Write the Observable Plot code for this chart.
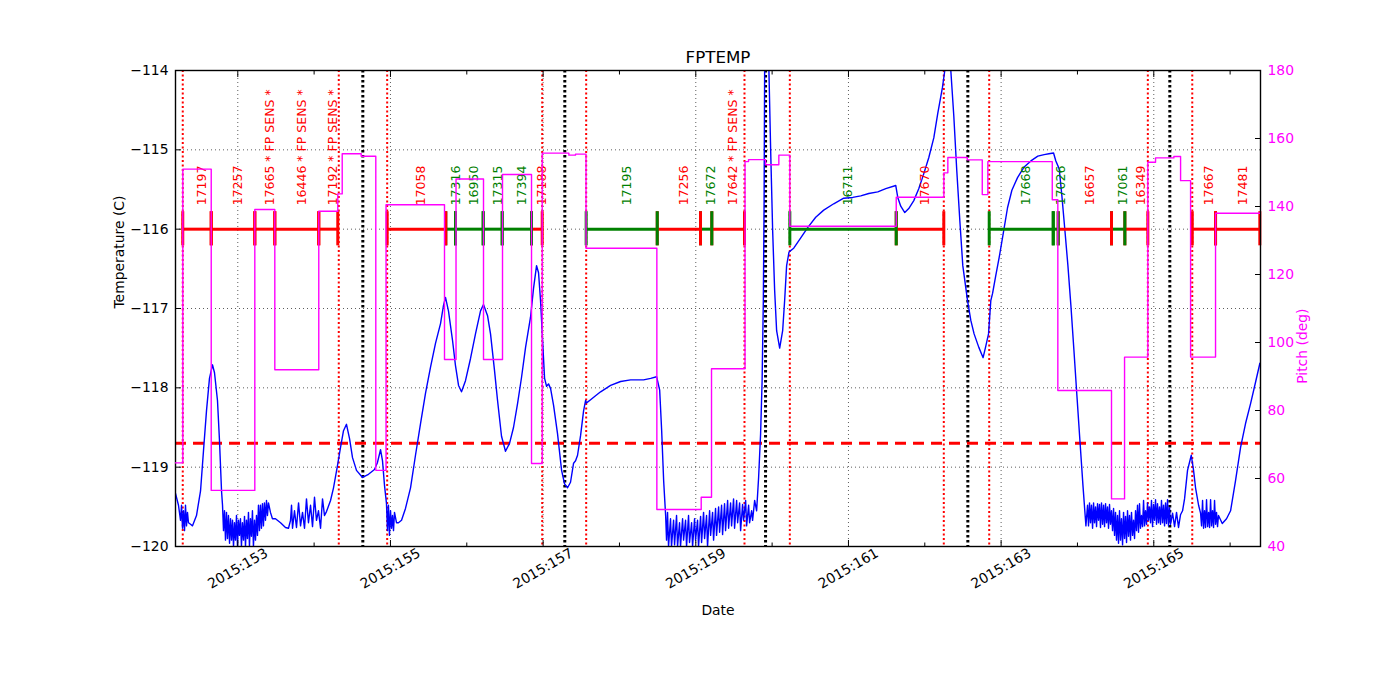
<!DOCTYPE html>
<html><head><meta charset="utf-8">
<script src="https://cdn.jsdelivr.net/npm/d3@7"></script>
<script src="https://cdn.jsdelivr.net/npm/@observablehq/plot@0.6"></script>
<style>
html,body{margin:0;padding:0;background:#fff;overflow:hidden;}
#wrap{position:relative;width:1400px;height:700px;}
#wrap svg{position:absolute;left:0;top:0;max-width:none;}
</style></head><body><div id="wrap"></div>
<script>
// ---- data ----
const tempDay = [152.184,152.223,152.250,152.263,152.276,152.289,152.302,152.315,152.328,152.341,152.354,152.381,152.407,152.459,152.512,152.551,152.590,152.629,152.669,152.695,152.734,152.760,152.787,152.800,
152.813,152.826,152.839,152.852,152.865,152.878,152.892,152.905,152.918,152.931,152.944,152.957,152.970,152.983,152.996,153.009,153.022,153.035,153.048,153.061,153.075,153.088,153.101,153.114,153.127,153.140,153.153,153.166,153.179,153.192,153.205,153.219,153.232,153.245,153.258,153.271,153.284,153.297,153.310,153.323,153.336,153.349,153.363,153.376,153.389,153.402,153.428,153.454,
153.494,153.560,153.625,153.664,
153.691,153.704,153.717,153.743,153.769,153.796,153.822,153.848,153.874,153.900,153.926,153.953,153.979,154.005,154.031,154.057,154.084,154.110,154.136,154.162,
154.215,154.254,154.306,154.346,154.385,154.424,154.464,154.503,154.555,154.634,154.712,154.791,154.830,154.870,154.896,154.922,154.948,154.961,154.974,154.987,155.001,155.014,155.027,155.040,155.053,155.079,155.105,155.145,155.197,155.263,155.328,155.394,155.459,155.525,155.590,155.656,155.695,155.721,155.760,155.813,155.852,155.892,155.931,155.983,156.049,156.114,156.180,156.219,156.272,156.311,156.363,156.403,156.455,156.507,156.560,156.612,156.665,156.717,156.770,156.835,156.874,156.914,156.940,156.966,156.993,157.019,157.045,157.071,157.098,157.137,157.189,157.242,157.281,157.320,157.359,157.399,157.425,157.451,157.491,157.530,157.556,157.569,157.622,157.687,157.753,157.884,158.015,158.146,158.316,158.409,158.487,158.527,158.553,158.579,158.605,
158.617,158.630,158.643,158.669,158.682,158.709,158.722,158.748,158.761,158.787,158.800,158.827,158.840,158.866,158.879,158.905,158.918,158.945,158.958,158.984,158.997,159.023,159.036,159.063,159.076,159.102,159.115,159.141,159.154,159.181,159.194,159.220,159.233,159.259,159.272,159.299,159.312,159.338,159.351,159.377,159.390,159.417,159.430,159.456,159.469,159.495,159.508,159.535,159.548,159.574,159.587,159.613,159.626,159.653,159.666,159.692,159.705,159.731,159.744,159.771,159.797,
159.823,159.849,159.869,159.885,159.895,159.902,159.915,159.928,159.948,159.958,159.981,160.007,160.033,160.059,160.099,160.138,160.164,160.190,160.221,160.230,160.283,160.375,160.466,160.571,160.676,160.807,160.938,161.056,161.161,161.266,161.384,161.489,161.620,161.646,161.685,161.738,161.790,161.856,161.921,161.987,162.052,162.118,162.170,162.232,162.262,162.288,162.315,162.341,162.380,162.419,162.459,162.498,162.560,162.603,162.646,162.708,162.764,162.800,162.835,162.865,162.888,162.931,162.974,163.023,163.084,163.141,163.215,163.298,163.390,163.481,163.564,163.626,163.687,163.717,163.761,163.796,163.836,163.875,163.914,163.954,163.993,164.032,164.072,164.111,
164.132,164.145,164.158,164.171,164.184,164.198,164.211,164.224,164.237,164.250,164.263,164.276,164.289,164.302,164.315,164.329,164.342,164.355,164.368,164.381,164.394,164.407,164.420,164.433,164.446,164.460,164.473,164.486,164.499,164.512,164.525,164.538,164.551,164.564,164.577,164.591,164.604,164.617,164.630,164.643,164.656,164.669,164.682,164.695,164.708,164.722,164.735,164.748,164.761,164.774,164.787,164.800,164.813,164.826,164.839,164.853,164.866,164.879,164.892,164.905,164.918,164.931,164.944,164.957,164.970,164.984,164.997,165.010,165.023,165.036,165.049,165.062,165.075,165.088,165.101,165.115,165.128,165.141,165.154,165.167,165.180,165.193,165.206,165.219,165.246,165.272,165.298,165.324,165.350,165.377,
165.403,165.442,165.491,165.521,165.547,165.587,165.613,
165.626,165.639,165.652,165.665,165.678,165.691,165.705,165.718,165.731,165.744,165.757,165.770,165.783,165.796,165.809,165.822,165.835,165.848,
165.897,165.953,166.006,166.071,166.137,166.202,166.268,166.333,166.390];

const tempVal = [-119.33,-119.48,-119.67,-119.48,-119.77,-119.55,-119.80,-119.48,-119.74,-119.57,-119.70,-119.72,-119.74,-119.61,-119.30,-118.79,-118.29,-117.88,-117.71,-117.81,-118.16,-118.66,-119.30,-119.48,
-119.80,-119.55,-119.92,-119.57,-119.90,-119.61,-119.96,-119.65,-119.92,-119.67,-120.00,-119.70,-119.92,-119.61,-120.00,-119.67,-119.86,-119.65,-120.00,-119.70,-119.92,-119.62,-120.00,-119.67,-119.90,-119.57,-120.00,-119.65,-119.87,-119.55,-120.00,-119.67,-119.92,-119.61,-119.86,-119.48,-119.80,-119.48,-119.77,-119.46,-119.74,-119.45,-119.67,-119.42,-119.61,-119.45,-119.57,-119.65,
-119.65,-119.70,-119.76,-119.77,
-119.67,-119.48,-119.77,-119.55,-119.76,-119.45,-119.74,-119.57,-119.77,-119.40,-119.70,-119.48,-119.75,-119.38,-119.67,-119.55,-119.77,-119.40,-119.61,-119.56,
-119.42,-119.26,-118.98,-118.75,-118.54,-118.46,-118.64,-118.88,-119.04,-119.13,-119.09,-119.03,-118.94,-118.78,-118.92,-119.23,-119.46,-119.80,-119.48,-119.86,-119.55,-119.77,-119.61,-119.80,-119.57,-119.70,-119.70,-119.67,-119.52,-119.26,-118.85,-118.45,-118.07,-117.74,-117.44,-117.19,-116.96,-116.86,-117.03,-117.40,-117.72,-117.97,-118.05,-117.91,-117.63,-117.32,-117.03,-116.95,-117.09,-117.32,-117.78,-118.16,-118.61,-118.80,-118.70,-118.50,-118.20,-117.87,-117.49,-117.11,-116.75,-116.46,-116.55,-116.90,-117.40,-117.88,-117.98,-117.95,-118.01,-118.22,-118.58,-119.04,-119.21,-119.26,-119.19,-118.95,-118.92,-118.85,-118.60,-118.29,-118.16,-118.19,-118.15,-118.10,-118.05,-117.97,-117.92,-117.90,-117.90,-117.88,-117.86,-118.03,-118.54,-119.17,-119.61,
-119.92,-119.57,-120.00,-119.65,-120.00,-119.67,-119.98,-119.61,-120.00,-119.70,-120.00,-119.65,-119.92,-119.67,-120.00,-119.61,-119.95,-119.70,-120.00,-119.65,-119.92,-119.67,-120.00,-119.62,-119.95,-119.57,-119.90,-119.61,-120.00,-119.55,-119.86,-119.57,-119.92,-119.52,-119.86,-119.50,-119.82,-119.48,-119.85,-119.46,-119.80,-119.42,-119.77,-119.45,-119.74,-119.40,-119.77,-119.42,-119.70,-119.45,-119.80,-119.47,-119.67,-119.42,-119.74,-119.48,-119.70,-119.55,-119.67,-119.42,-119.55,
-119.13,-118.58,-117.91,-116.90,-115.64,-114.00,-113.50,-113.31,-113.62,-114.00,-115.01,-116.02,-116.77,-117.28,-117.50,-117.28,-116.90,-116.46,-116.29,-116.28,-116.24,-116.11,-115.98,-115.85,-115.76,-115.68,-115.61,-115.60,-115.58,-115.55,-115.53,-115.49,-115.45,-115.60,-115.71,-115.79,-115.74,-115.64,-115.49,-115.30,-115.10,-114.85,-114.54,-114.21,-114.00,-113.75,-113.69,-114.00,-114.57,-115.26,-115.89,-116.46,-116.90,-117.15,-117.32,-117.49,-117.62,-117.47,-117.32,-116.90,-116.81,-116.58,-116.36,-116.08,-115.73,-115.51,-115.35,-115.22,-115.14,-115.08,-115.06,-115.05,-115.04,-115.14,-115.24,-115.58,-116.02,-116.46,-116.96,-117.53,-118.10,-118.66,-119.23,-119.74,
-119.48,-119.74,-119.45,-119.70,-119.48,-119.77,-119.45,-119.70,-119.50,-119.75,-119.46,-119.67,-119.47,-119.76,-119.45,-119.72,-119.48,-119.75,-119.46,-119.70,-119.50,-119.77,-119.47,-119.72,-119.55,-119.80,-119.52,-119.86,-119.57,-119.92,-119.61,-119.96,-119.55,-119.92,-119.65,-119.98,-119.57,-119.90,-119.62,-119.95,-119.55,-119.87,-119.61,-119.92,-119.57,-119.86,-119.67,-119.90,-119.55,-119.80,-119.48,-119.82,-119.46,-119.77,-119.61,-119.75,-119.42,-119.74,-119.55,-119.72,-119.45,-119.67,-119.50,-119.70,-119.42,-119.75,-119.47,-119.67,-119.41,-119.72,-119.46,-119.70,-119.50,-119.72,-119.42,-119.70,-119.48,-119.74,-119.45,-119.71,-119.41,-119.74,-119.51,-119.72,-119.58,-119.75,-119.57,-119.76,-119.60,-119.55,
-119.40,-119.04,-118.85,-119.04,-119.26,-119.48,-119.58,
-119.74,-119.42,-119.77,-119.55,-119.76,-119.41,-119.75,-119.57,-119.76,-119.41,-119.74,-119.55,-119.76,-119.42,-119.72,-119.57,-119.75,-119.61,
-119.71,-119.65,-119.55,-119.17,-118.75,-118.45,-118.20,-117.93,-117.69];

const pitchDay = [152.184,152.280,152.652,153.223,153.485,154.061,154.310,154.368,154.617,154.808,154.942,155.708,155.859,156.219,156.468,156.848,156.988,157.337,157.424,157.562,158.490,159.071,159.206,159.645,159.691,159.914,160.088,160.232,161.626,162.250,162.302,162.556,162.753,162.826,163.670,163.743,164.446,164.617,164.922,165.023,165.263,165.351,165.482,165.809,166.398];
const pitchVal = [64.6,151.0,56.5,139.1,92.0,138.6,143.7,155.5,154.8,62.4,140.5,95.0,148.1,95.0,149.4,64.4,155.7,155.1,155.4,127.7,50.9,54.5,92.3,153.2,153.8,152.3,155.1,134.2,142.7,149.9,154.4,153.7,143.5,153.2,142.0,85.9,54.0,95.7,153.0,154.3,154.7,147.6,95.7,138.0,138.0];

const obsStart = [152.279,152.652,153.223,153.485,154.061,154.957,155.725,155.852,156.215,156.464,156.848,157.564,158.495,159.062,159.210,160.232,161.626,162.844,163.683,163.748,164.446,164.621,165.504,165.809];
const obsEnd   = [152.652,153.223,153.485,154.061,154.310,155.725,155.852,156.215,156.464,156.848,156.988,158.495,159.062,159.210,159.638,161.626,162.249,163.683,163.748,164.446,164.621,164.922,165.809,166.389];
const obsLabel = ["17197","17257","17665 * FP SENS *","16446 * FP SENS *","17192 * FP SENS *","17058","17316","16950","17315","17394","17188","17195","17256","17672","17642 * FP SENS *","16711","17670","17668","17026","16657","17061","16349","17667","17481"];
const obsKind  = ["red","red","red","red","red","red","green","green","green","green","red","green","red","green","red","green","red","green","green","red","green","red","red","red"];

const radDays = [152.279,154.323,154.957,156.988,157.564,159.638,160.232,162.249,162.844,164.922,165.504];
const perigeeDays = [154.638,157.284,159.914,162.564,165.210];
const limitTemp = [-118.7];
const obsLevel = -116;

const majorDays = [153,155,157,159,161,163,165];
const minorDays = [154,156,158,160,162,164,166];
const tempTicks = [-120,-119,-118,-117,-116,-115,-114];
const pitchTicks = [40,60,80,100,120,140,160,180];
const xDomain = [152.184,166.398];

// ---- drawing ----
const FONT = "DejaVu Sans";
const kindColor = {red:"#ff0000", green:"#008000"};
const minus = d => d < 0 ? "\u2212" + Math.abs(d) : String(d);
const temp = tempDay.map((d,i)=>({day:d, t:tempVal[i]}));
const pitch = pitchDay.map((d,i)=>({day:d, p:pitchVal[i]}));
const obs = obsStart.map((s,i)=>({start:s, end:obsEnd[i], label:obsLabel[i], color:kindColor[obsKind[i]]}));
const common = {width:1400, height:700, marginTop:70, marginRight:140, marginBottom:154, marginLeft:175};

const main = Plot.plot({
  ...common,
  x:{domain:xDomain},
  y:{domain:[-120,-114]},
  color:{type:"identity"},
  style:{fontFamily:FONT, background:"white", overflow:"visible"},
  marks:[
    Plot.gridX(majorDays, {stroke:"#000", strokeOpacity:0.8, strokeWidth:0.8, strokeDasharray:"1,3"}),
    Plot.gridY(tempTicks.slice(1,-1), {stroke:"#000", strokeOpacity:0.8, strokeWidth:0.8, strokeDasharray:"1,3"}),
    Plot.ruleX(radDays, {stroke:"#ff0000", strokeWidth:2, strokeDasharray:"2,2.5"}),
    Plot.ruleX(perigeeDays, {stroke:"#000", strokeWidth:3, strokeDasharray:"2.5,2.5"}),
    Plot.ruleY(limitTemp, {stroke:"#ff0000", strokeWidth:3, strokeDasharray:"11,7"}),
    Plot.line(temp, {x:"day", y:"t", stroke:"#0000ff", strokeWidth:1.4, clip:true}),
    Plot.link(obs, {x1:"start", x2:"end", y1:()=>obsLevel, y2:()=>obsLevel, stroke:"color", strokeWidth:3}),
    Plot.ruleX(obs, {x:"start", y1:()=>obsLevel-0.21, y2:()=>obsLevel+0.22, stroke:"color", strokeWidth:3}),
    Plot.ruleX(obs, {x:"end", y1:()=>obsLevel-0.21, y2:()=>obsLevel+0.22, stroke:"color", strokeWidth:3}),
    Plot.text(obs, {x:d=>(d.start+d.end)/2, y:()=>obsLevel+0.3, text:"label", rotate:-90, textAnchor:"start", lineAnchor:"top", fill:"color", fontSize:12.5}),
    Plot.frame({stroke:"#000", strokeWidth:1.4}),
    Plot.axisY(tempTicks, {anchor:"left", tickSize:-6, tickPadding:13, tickFormat:minus, fontSize:13.9, label:null}),
    Plot.axisX(majorDays, {anchor:"bottom", tickSize:-6, tickFormat:()=>"", label:null}),
    Plot.axisX(minorDays, {anchor:"bottom", tickSize:-3.5, tickFormat:()=>"", label:null}),
    Plot.axisX(majorDays, {anchor:"top", tickSize:-6, tickFormat:()=>"", label:null}),
    Plot.axisX(minorDays, {anchor:"top", tickSize:-3.5, tickFormat:()=>"", label:null}),
    Plot.text(majorDays, {x:d=>d, frameAnchor:"bottom", lineAnchor:"middle", dy:22, rotate:-30, text:d=>"2015:"+d, fontSize:13.9, fill:"#000"}),
    Plot.text(["Date"], {frameAnchor:"bottom", lineAnchor:"middle", dy:64, fontSize:13.9, fill:"#000"}),
    Plot.text(["Temperature (C)"], {frameAnchor:"left", dx:-56, rotate:-90, fontSize:13.9, fill:"#000"}),
    Plot.text(["FPTEMP"], {frameAnchor:"top", lineAnchor:"middle", dy:-13, fontSize:16.7, fill:"#000"})
  ]
});

const pitchPlot = Plot.plot({
  ...common,
  x:{domain:xDomain, axis:null},
  y:{domain:[40,180], axis:null},
  style:{fontFamily:FONT, background:"transparent", overflow:"visible"},
  marks:[
    Plot.line(pitch, {x:"day", y:"p", curve:"step-after", stroke:"#ff00ff", strokeWidth:1.4, clip:true}),
    Plot.axisY(pitchTicks, {anchor:"right", tickSize:-6, tickFormat:()=>"", label:null}),
    Plot.text(pitchTicks, {y:d=>d, frameAnchor:"right", dx:7, textAnchor:"start", text:d=>String(d), fill:"#ff00ff", fontSize:13.9}),
    Plot.text(["Pitch (deg)"], {frameAnchor:"right", dx:42, rotate:-90, fill:"#ff00ff", fontSize:13.9})
  ]
});

document.getElementById("wrap").append(main, pitchPlot);
</script></body></html>
